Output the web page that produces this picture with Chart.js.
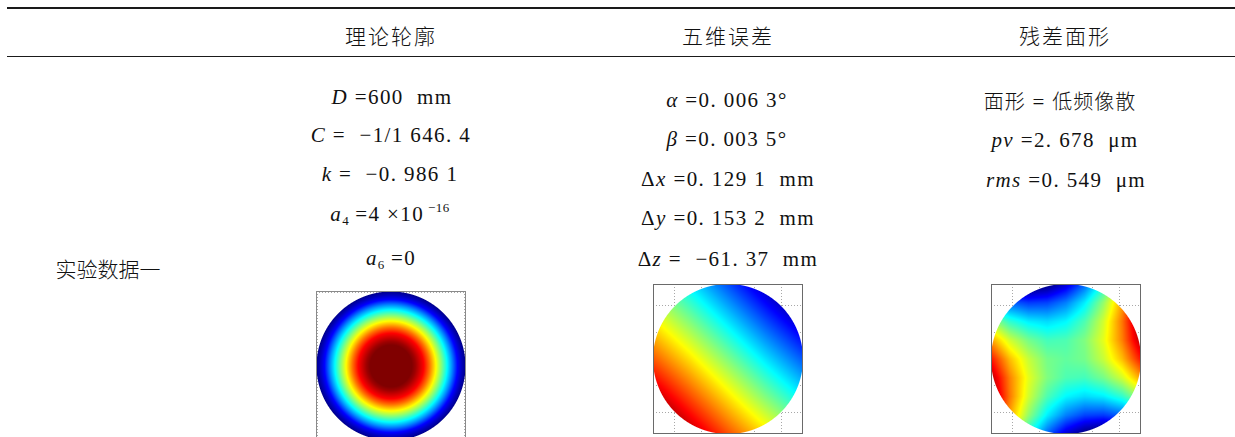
<!DOCTYPE html>
<html>
<head>
<meta charset="utf-8">
<script src="https://cdn.jsdelivr.net/npm/chart.js@4.4.0/dist/chart.umd.min.js"></script>
<style>
  html, body { margin:0; padding:0; background:#fff; }
  #page { position:relative; width:1235px; height:437px; overflow:hidden; background:#fff; }
  .rule { position:absolute; background:#1a1a1a; }
  .cn { position:absolute; transform:translate(-50%,-50%); white-space:nowrap;
        font-family:"Noto Sans CJK SC", sans-serif; font-weight:300; font-size:21px; color:#111; }
  .m { position:absolute; transform:translate(-50%,-50%); white-space:nowrap;
       font-family:"Liberation Serif","Times New Roman",serif; font-size:21px; letter-spacing:1.4px; color:#111; }
  .m i { font-style:italic; }
  .m .c { font-family:"Noto Sans CJK SC", sans-serif; font-weight:300; font-size:20px; letter-spacing:1px; }
  sub { font-size:13px; vertical-align:-4px; color:#111; letter-spacing:0; }
  sup { font-size:13px; vertical-align:9px; color:#111; letter-spacing:0.5px; }
  canvas.map { position:absolute; }
</style>
</head>
<body>
<div id="page">
  <div class="rule" style="left:7px;top:7px;width:1228px;height:2px;"></div>
  <div class="rule" style="left:7px;top:56px;width:1228px;height:1px;"></div>

  <div class="cn" id="h1" style="left:391px;top:35px;letter-spacing:2px;"></div>
  <div class="cn" id="h2" style="left:728px;top:35px;letter-spacing:2px;"></div>
  <div class="cn" id="h3" style="left:1065px;top:35px;letter-spacing:2px;"></div>
  <div class="cn" id="rowLabel" style="left:108px;top:268px;"></div>

  <div class="m" style="left:392px;top:97px;"><i>D</i> =600 &nbsp;mm</div>
  <div class="m" style="left:391px;top:135px;"><i>C</i> = &nbsp;−1/1 646. 4</div>
  <div class="m" style="left:390px;top:174px;"><i>k</i> = &nbsp;−0. 986 1</div>
  <div class="m" style="left:390px;top:214px;"><i>a</i><sub>4</sub> =4 ×10<sup> −16</sup></div>
  <div class="m" style="left:391px;top:259px;"><i>a</i><sub>6</sub> =0</div>

  <div class="m" style="left:727px;top:100px;"><i>α</i> =0. 006 3°</div>
  <div class="m" style="left:727px;top:139px;"><i>β</i> =0. 003 5°</div>
  <div class="m" style="left:728px;top:179px;">Δ<i>x</i> =0. 129 1 &nbsp;mm</div>
  <div class="m" style="left:728px;top:218px;">Δ<i>y</i> =0. 153 2 &nbsp;mm</div>
  <div class="m" style="left:728px;top:259px;">Δ<i>z</i> = &nbsp;−61. 37 &nbsp;mm</div>

  <div class="m" style="left:1060px;top:100px;"><span class="c">面形</span> = <span class="c">低频像散</span></div>
  <div class="m" style="left:1065px;top:140px;"><i>pv</i> =2. 678 &nbsp;μm</div>
  <div class="m" style="left:1066px;top:180px;"><i>rms</i> =0. 549 &nbsp;μm</div>

  <canvas class="map" id="map1" width="152" height="152" style="left:315px;top:290px;"></canvas>
  <canvas class="map" id="map2" width="152" height="152" style="left:652px;top:283px;"></canvas>
  <canvas class="map" id="map3" width="152" height="152" style="left:990px;top:283px;"></canvas>
</div>
<script>
// ---------- text ----------
const headers = ["理论轮廓", "五维误差", "残差面形"];
const rowLabel = "实验数据一";

// ---------- map 1: theoretical profile (radial profile) ----------
const map1Rho = [0, 0.28, 0.33, 0.44, 0.52, 0.60, 0.68, 0.75, 0.82, 0.89, 0.95, 1.0];
const map1Val = [1.0, 1.0, 0.97, 0.875, 0.76, 0.63, 0.50, 0.38, 0.26, 0.13, 0.06, 0.01];
const map1Ticks = [-300, 0, 300];
const map1Range = [-305, 305];
const map1Radius = 303;

// ---------- map 2: five-dimensional error (grid, rows top->bottom, cols left->right) ----------
const map2Grid = [
  [0.49, 0.35, 0.20, 0.05, -0.10],
  [0.64, 0.50, 0.35, 0.20, 0.06],
  [0.79, 0.65, 0.50, 0.35, 0.21],
  [0.95, 0.80, 0.65, 0.50, 0.36],
  [1.10, 0.95, 0.80, 0.66, 0.51]
];

// ---------- map 3: residual surface (grid) ----------
const map3Grid = [
  [0.02, -0.04, -0.05, -0.01, 0.08, 0.22, 0.40, 0.64, 0.92],
  [0.30, 0.22, 0.18, 0.19, 0.25, 0.36, 0.52, 0.72, 0.98],
  [0.54, 0.42, 0.36, 0.34, 0.37, 0.45, 0.58, 0.76, 0.99],
  [0.72, 0.58, 0.49, 0.44, 0.45, 0.50, 0.60, 0.75, 0.95],
  [0.86, 0.69, 0.57, 0.49, 0.47, 0.49, 0.57, 0.69, 0.86],
  [0.95, 0.75, 0.60, 0.50, 0.45, 0.44, 0.49, 0.58, 0.72],
  [0.99, 0.76, 0.58, 0.45, 0.37, 0.34, 0.36, 0.42, 0.54],
  [0.98, 0.72, 0.52, 0.36, 0.25, 0.19, 0.18, 0.22, 0.30],
  [0.92, 0.64, 0.40, 0.22, 0.08, -0.01, -0.05, -0.04, 0.02]
];
const map23Ticks = [-200, -100, 0, 100, 200];
const map23Range = [-280, 280];
const map23Radius = 280;

document.getElementById('h1').textContent = headers[0];
document.getElementById('h2').textContent = headers[1];
document.getElementById('h3').textContent = headers[2];
document.getElementById('rowLabel').textContent = rowLabel;

function clamp01(t){ return t < 0 ? 0 : (t > 1 ? 1 : t); }
function jet(v){
  v = clamp01(v);
  return [
    Math.round(255 * clamp01(1.5 - Math.abs(4*v - 3))),
    Math.round(255 * clamp01(1.5 - Math.abs(4*v - 2))),
    Math.round(255 * clamp01(1.5 - Math.abs(4*v - 1)))
  ];
}
function sampleGrid(g, u, w){
  const n = g.length, m = g[0].length;
  let gx = (u + 1) / 2 * (m - 1), gy = (1 - w) / 2 * (n - 1);
  gx = Math.max(0, Math.min(m - 1.0001, gx)); gy = Math.max(0, Math.min(n - 1.0001, gy));
  const i = Math.floor(gx), j = Math.floor(gy), fx = gx - i, fy = gy - j;
  const a = g[j][i], b = g[j][i+1], c = g[j+1][i], d = g[j+1][i+1];
  return (a*(1-fx) + b*fx)*(1-fy) + (c*(1-fx) + d*fx)*fy;
}
function sampleProfile(rhoArr, valArr, r){
  if (r <= rhoArr[0]) return valArr[0];
  for (let k = 1; k < rhoArr.length; k++){
    if (r <= rhoArr[k]){
      const t = (r - rhoArr[k-1]) / (rhoArr[k] - rhoArr[k-1]);
      return valArr[k-1] + t * (valArr[k] - valArr[k-1]);
    }
  }
  return valArr[valArr.length - 1];
}

// plugin: draws the colour map through the chart's scales
const heatPlugin = {
  id: 'heat',
  beforeDatasetsDraw(chart){
    const ds = chart.data.datasets[0];
    const h = ds.heat;
    const xs = chart.scales.x, ys = chart.scales.y;
    const cx = xs.getPixelForValue(0), cy = ys.getPixelForValue(0);
    const rpx = xs.getPixelForValue(h.radius) - cx;
    const x0 = Math.floor(cx - rpx) - 1, y0 = Math.floor(cy - rpx) - 1;
    const size = Math.ceil(2 * rpx) + 3;
    const off = document.createElement('canvas');
    off.width = size; off.height = size;
    const octx = off.getContext('2d');
    const img = octx.createImageData(size, size);
    for (let py = 0; py < size; py++){
      for (let px = 0; px < size; px++){
        const sx = x0 + px + 0.5, sy = y0 + py + 0.5;
        const dpx = Math.hypot(sx - cx, sy - cy);
        const alpha = clamp01(rpx - dpx + 0.5);
        if (alpha <= 0) continue;
        const u = xs.getValueForPixel(sx) / h.radius;
        const w = ys.getValueForPixel(sy) / h.radius;
        let v;
        if (h.kind === 'radial') v = sampleProfile(h.rho, h.values, Math.min(1, Math.hypot(u, w)));
        else v = sampleGrid(h.grid, u, w);
        const c = jet(v);
        const k = (py * size + px) * 4;
        img.data[k] = c[0]; img.data[k+1] = c[1]; img.data[k+2] = c[2];
        img.data[k+3] = Math.round(alpha * 255);
      }
    }
    octx.putImageData(img, 0, 0);
    chart.ctx.drawImage(off, x0, y0);
  },
  afterDatasetsDraw(chart){
    const a = chart.chartArea, ctx = chart.ctx;
    ctx.save();
    ctx.strokeStyle = chart.data.datasets[0].heat.frame;
    ctx.lineWidth = 1;
    ctx.strokeRect(Math.round(a.left) + 0.5, Math.round(a.top) + 0.5,
                   Math.round(a.right - a.left) - 1, Math.round(a.bottom - a.top) - 1);
    ctx.restore();
  }
};

function makeMap(id, heat, range, ticks){
  const axis = {
    type: 'linear', min: range[0], max: range[1],
    afterBuildTicks: s => { s.ticks = ticks.map(v => ({ value: v })); },
    ticks: { display: false },
    grid: { color: '#a8a8a8', lineWidth: 1, drawTicks: false },
    border: { display: false, dash: [1, 2] }
  };
  new Chart(document.getElementById(id), {
    type: 'scatter',
    data: { datasets: [{ data: [{ x: 0, y: 0 }], pointRadius: 0, heat }] },
    options: {
      responsive: false, animation: false, events: [],
      layout: { padding: 1 },
      plugins: { legend: { display: false }, tooltip: { enabled: false } },
      scales: { x: Object.assign({}, axis), y: Object.assign({}, axis) }
    },
    plugins: [heatPlugin]
  });
}

makeMap('map1', { kind: 'radial', rho: map1Rho, values: map1Val, radius: map1Radius, frame: '#8a8a8a' }, map1Range, map1Ticks);
makeMap('map2', { kind: 'grid', grid: map2Grid, radius: map23Radius, frame: '#6a6a6a' }, map23Range, map23Ticks);
makeMap('map3', { kind: 'grid', grid: map3Grid, radius: map23Radius, frame: '#6a6a6a' }, map23Range, map23Ticks);
</script>
</body>
</html>
